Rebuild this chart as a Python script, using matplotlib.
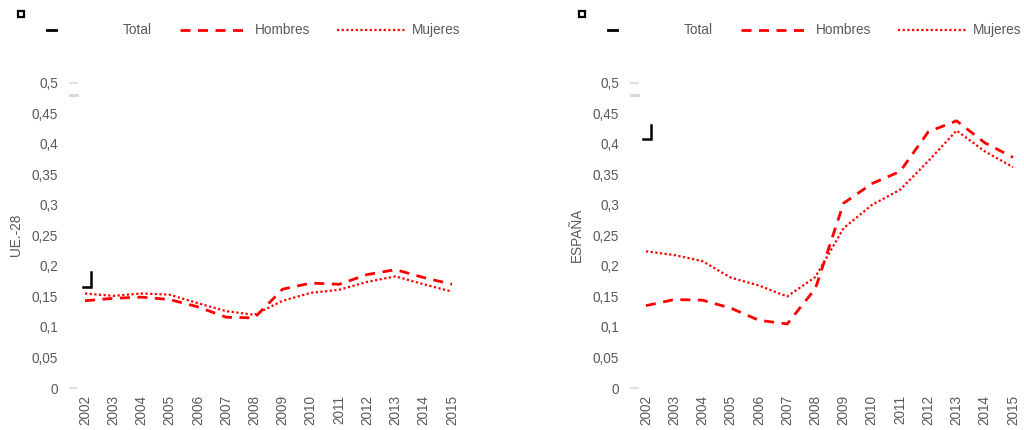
import matplotlib
matplotlib.use("Agg")
import matplotlib.pyplot as plt
from matplotlib.lines import Line2D
from matplotlib.patches import Rectangle

plt.rcParams['font.family'] = ['Liberation Sans', 'DejaVu Sans']

years = ['2002', '2003', '2004', '2005', '2006', '2007', '2008',
         '2009', '2010', '2011', '2012', '2013', '2014', '2015']

ue_hombres = [0.143, 0.147, 0.149, 0.145, 0.133, 0.116, 0.115,
              0.162, 0.172, 0.170, 0.186, 0.194, 0.181, 0.170]
ue_mujeres = [0.155, 0.151, 0.155, 0.153, 0.139, 0.126, 0.120,
              0.143, 0.156, 0.161, 0.174, 0.183, 0.170, 0.158]

es_hombres = [0.135, 0.145, 0.144, 0.131, 0.111, 0.105, 0.163,
              0.303, 0.335, 0.355, 0.420, 0.438, 0.402, 0.378]
es_mujeres = [0.224, 0.218, 0.208, 0.181, 0.168, 0.150, 0.182,
              0.262, 0.300, 0.325, 0.372, 0.422, 0.388, 0.362]

yticks = [0, 0.05, 0.1, 0.15, 0.2, 0.25, 0.3, 0.35, 0.4, 0.45, 0.5]
ytick_labels = ['0', '0,05', '0,1', '0,15', '0,2', '0,25', '0,3',
                '0,35', '0,4', '0,45', '0,5']
legend_labels = ['Total', 'Hombres', 'Mujeres']
panel_labels = ['UE.-28', 'ESPAÑA']

W, H = 1024, 430
fig = plt.figure(figsize=(W / 100, H / 100), dpi=100)

GRAY = '#595959'
RED = '#FF0000'
FS = 9.8

H_LW, H_DASH = 2.0, (3.6, 2.7)
M_LW, M_DASH = 1.6, (1.0, 1.1)


def fx(px):
    return px / W


def fy(py):
    return 1 - py / H


def draw_panel(off, hombres, mujeres, ylabel):
    # axes: left 70+off px, right 467+off px; y 0 -> 388 px, 0.5 -> 83 px
    ax = fig.add_axes([fx(70 + off), fy(388), fx(397), (388 - 83) / H])
    x = list(range(len(years)))
    ax.plot(x, hombres, color=RED, lw=H_LW, dashes=H_DASH, clip_on=False)
    ax.plot(x, mujeres, color=RED, lw=M_LW, dashes=M_DASH, clip_on=False)
    ax.set_xlim(-0.531, 13.531)
    ax.set_ylim(0, 0.5)
    ax.set_xticks(x)
    ax.set_xticklabels(years, rotation=90, color=GRAY, fontsize=FS)
    ax.set_yticks(yticks)
    ax.set_yticklabels(ytick_labels, color=GRAY, fontsize=FS)
    ax.tick_params(axis='y', length=0, pad=8.6)
    ax.tick_params(axis='x', length=0, pad=5)
    for s in ax.spines.values():
        s.set_visible(False)
    ax.patch.set_alpha(0)
    fig.text(fx(16 + off), fy(235), ylabel, rotation=90, ha='center',
             va='center', color=GRAY, fontsize=FS)
    # small gray tick marks
    for py, lw in [(83, 1.2), (95, 2.2), (388, 1.2)]:
        fig.add_artist(Line2D([fx(70 + off), fx(77 + off)], [fy(py), fy(py)],
                              color='#D9D9D9', lw=lw))

    # legend
    lo = off - 1
    fig.add_artist(Rectangle((fx(19 + lo), fy(17)), fx(6), 6 / H,
                             fill=False, edgecolor='black', lw=1.6))
    fig.add_artist(Line2D([fx(48 + lo), fx(57 + lo)], [fy(30), fy(30)],
                          color='black', lw=2.0))
    fig.text(fx(124 + lo), fy(30), legend_labels[0], ha='left', va='center',
             color=GRAY, fontsize=FS)
    fig.add_artist(Line2D([fx(181 + lo), fx(246 + lo)], [fy(30), fy(30)],
                          color=RED, lw=H_LW, dashes=H_DASH))
    fig.text(fx(256 + lo), fy(30), legend_labels[1], ha='left', va='center',
             color=GRAY, fontsize=FS)
    fig.add_artist(Line2D([fx(338 + lo), fx(406 + lo)], [fy(30), fy(30)],
                          color=RED, lw=M_LW, dashes=M_DASH))
    fig.text(fx(413 + lo), fy(30), legend_labels[2], ha='left', va='center',
             color=GRAY, fontsize=FS)


draw_panel(0, ue_hombres, ue_mujeres, panel_labels[0])
draw_panel(561, es_hombres, es_mujeres, panel_labels[1])

# small black corner marks
for (x0, x1, ytop, ybot) in [(83, 91, 272, 287), (643, 651, 125, 139)]:
    fig.add_artist(Line2D([fx(x0), fx(x1), fx(x1)],
                          [fy(ybot), fy(ybot), fy(ytop)],
                          color='black', lw=1.8, solid_joinstyle='miter'))

fig.savefig('out.png', dpi=100)
